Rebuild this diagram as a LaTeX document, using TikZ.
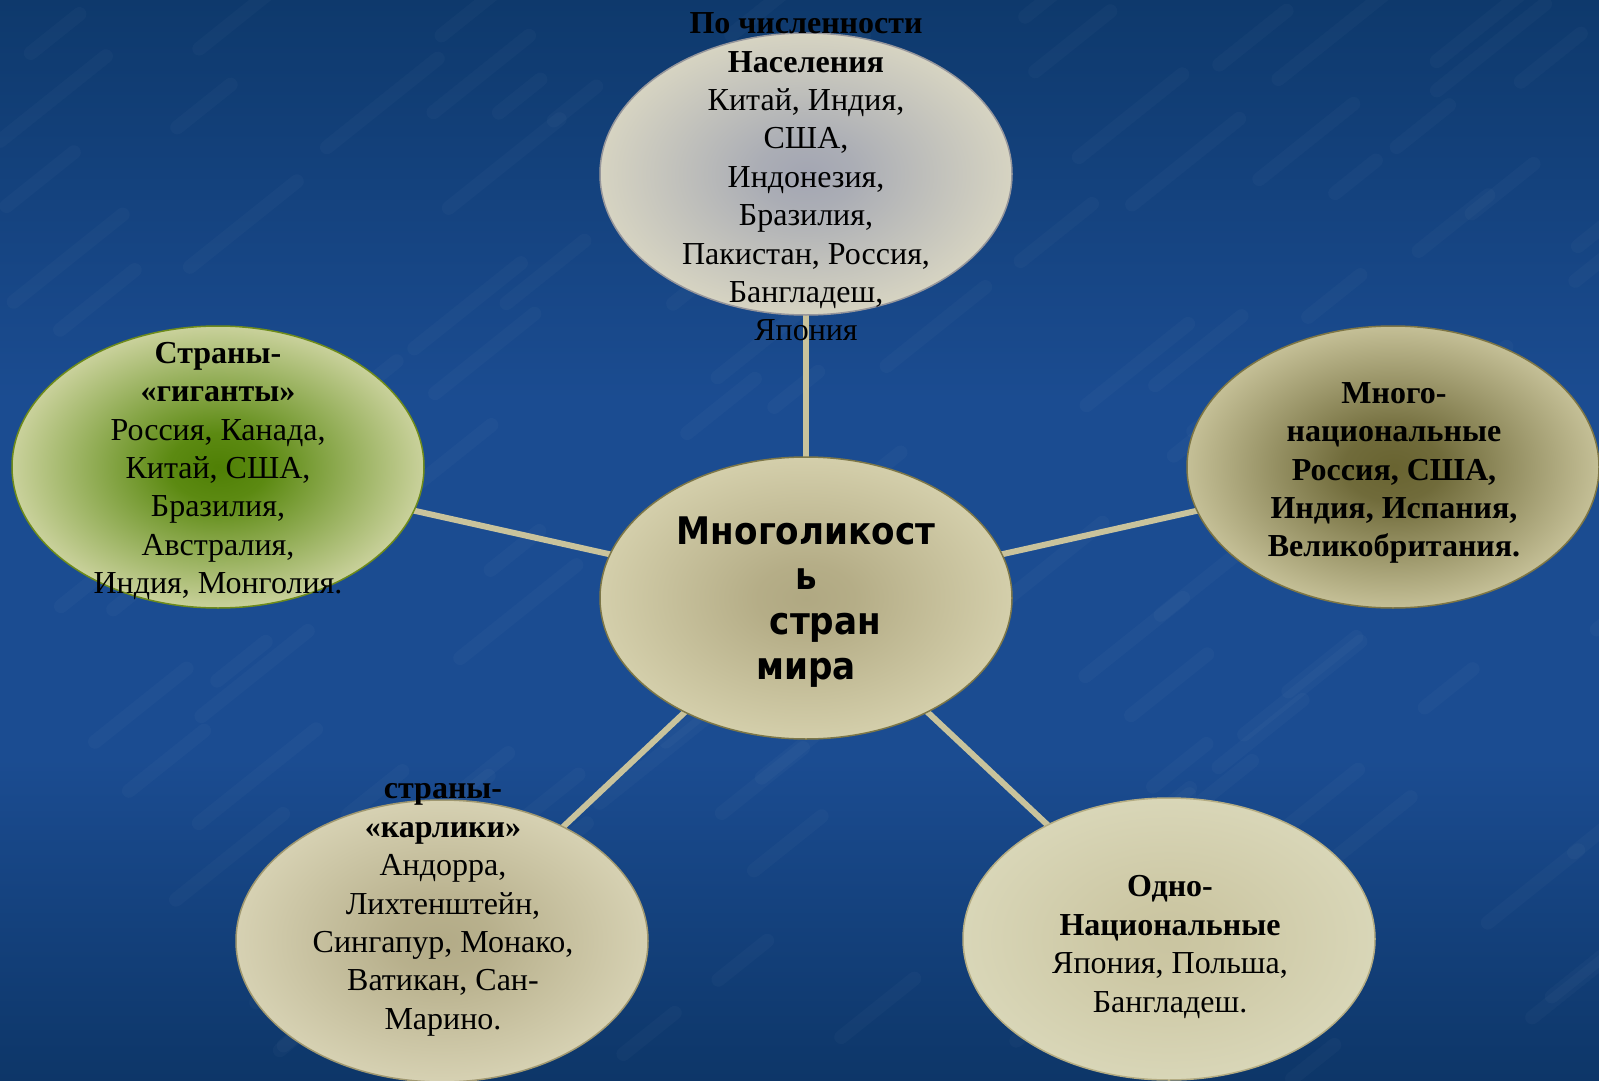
\documentclass[tikz,border=0pt]{standalone}
\usepackage{fontspec}
\setmainfont{Liberation Serif}
\newfontfamily\ctrfont{DejaVu Sans Condensed}
\usetikzlibrary{shapes.geometric}
\pgfdeclarelayer{bg}
\pgfdeclarelayer{background}
\pgfsetlayers{bg,background,main}
\definecolor{bgtop}{HTML}{0E396C}
\definecolor{bgmid}{HTML}{1B4C91}
\definecolor{bgbot}{HTML}{0D3668}
\definecolor{linkcol}{HTML}{C9C39C}
\pgfdeclareradialshading{shTop}{\pgfpoint{0bp}{0bp}}{rgb(0bp)=(0.64,0.65,0.70); rgb(6bp)=(0.67,0.68,0.71); rgb(25bp)=(0.84,0.83,0.76); rgb(50bp)=(0.84,0.83,0.76)}
\pgfdeclareradialshading{shLeft}{\pgfpoint{0bp}{0bp}}{rgb(0bp)=(0.31,0.50,0.02); rgb(6bp)=(0.36,0.54,0.07); rgb(25bp)=(0.79,0.82,0.61); rgb(50bp)=(0.79,0.82,0.61)}
\pgfdeclareradialshading{shRight}{\pgfpoint{0bp}{0bp}}{rgb(0bp)=(0.41,0.39,0.19); rgb(6bp)=(0.44,0.42,0.23); rgb(25bp)=(0.77,0.75,0.59); rgb(50bp)=(0.77,0.75,0.59)}
\pgfdeclareradialshading{shCtr}{\pgfpoint{0bp}{0bp}}{rgb(0bp)=(0.69,0.66,0.51); rgb(6bp)=(0.71,0.68,0.53); rgb(25bp)=(0.83,0.81,0.67); rgb(50bp)=(0.83,0.81,0.67)}
\pgfdeclareradialshading{shBL}{\pgfpoint{0bp}{0bp}}{rgb(0bp)=(0.70,0.67,0.53); rgb(6bp)=(0.72,0.69,0.55); rgb(25bp)=(0.84,0.82,0.70); rgb(50bp)=(0.84,0.82,0.70)}
\pgfdeclareradialshading{shBR}{\pgfpoint{0bp}{0bp}}{rgb(0bp)=(0.79,0.77,0.63); rgb(6bp)=(0.80,0.78,0.64); rgb(25bp)=(0.85,0.84,0.72); rgb(50bp)=(0.85,0.84,0.72)}
\tikzset{
  blob/.style={ellipse, inner sep=0pt, minimum width=412pt, minimum height=282pt, line width=1.5pt},
  txt/.style={align=center, inner sep=0pt, font=\fontsize{32}{38.4}\selectfont, text=black},
  link/.style={draw=linkcol, line width=6pt},
  streak/.style={draw=white, line width=14pt, opacity=0.025, line cap=round},
}
\begin{document}
\begin{tikzpicture}[x=1pt, y=-1pt]
\useasboundingbox (0,0) rectangle (1599,1081);
\begin{pgfonlayer}{bg}
\shade[top color=bgtop, bottom color=bgmid] (0,0) rectangle (1599,400);
\fill[bgmid] (0,399) rectangle (1599,760);
\shade[top color=bgmid, bottom color=bgbot] (0,759) rectangle (1599,1081);
\pgfmathsetseed{7}
\foreach \i in {1,...,120}{
  \pgfmathsetmacro{\xx}{rnd*1599}
  \pgfmathsetmacro{\yy}{rnd*1081}
  \pgfmathsetmacro{\ll}{40+rnd*80}
  \draw[streak] (\xx,\yy) -- ++(\ll,-0.8*\ll);
}
\end{pgfonlayer}

\node[blob, draw={rgb,255:red,150;green,150;blue,155}, shading=shTop] (top) at (806,174) {};
\node[blob, draw={rgb,255:red,110;green,139;blue,27}, shading=shLeft] (left) at (218,467) {};
\node[blob, draw={rgb,255:red,126;green,118;blue,69}, shading=shRight] (right) at (1393,467) {};
\node[blob, draw={rgb,255:red,125;green,119;blue,72}, shading=shCtr] (ctr) at (806,598) {};
\node[blob, draw={rgb,255:red,160;green,152;blue,112}, shading=shBL] (bl) at (442,941) {};
\node[blob, draw={rgb,255:red,180;green,172;blue,130}, shading=shBR] (br) at (1169,939) {};

\begin{pgfonlayer}{background}
\draw[link] (ctr.center) -- (top.center);
\draw[link] (ctr.center) -- (left.center);
\draw[link] (ctr.center) -- (right.center);
\draw[link] (ctr.center) -- (bl.center);
\draw[link] (ctr.center) -- (br.center);
\end{pgfonlayer}

\node[txt] (toptxt) at (806,177) {\textbf{По численности}\\\textbf{Населения}\\Китай, Индия,\\США,\\Индонезия,\\Бразилия,\\Пакистан, Россия,\\Бангладеш,\\Япония};
\node[txt] (lefttxt) at (218,471) {\textbf{Страны-}\\\textbf{«гиганты»}\\Россия, Канада,\\Китай, США,\\Бразилия,\\Австралия,\\Индия, Монголия.};
\node[txt, font=\fontsize{32}{38.4}\selectfont\bfseries] (righttxt) at (1394,473) {Много-\\национальные\\Россия, США,\\Индия, Испания,\\Великобритания.};
\node[txt, font=\ctrfont\fontsize{38}{45}\selectfont\bfseries] (ctrtxt) at (806,602) {Многоликост\\ь\\\hspace*{39pt}стран\\мира};
\node[txt] (bltxt) at (443,910) {\textbf{страны-}\\\textbf{«карлики»}\\Андорра,\\Лихтенштейн,\\Сингапур, Монако,\\Ватикан, Сан-\\Марино.};
\node[txt] (brtxt) at (1170,947) {\textbf{Одно-}\\\textbf{Национальные}\\Япония, Польша,\\Бангладеш.};
\end{tikzpicture}
\end{document}
